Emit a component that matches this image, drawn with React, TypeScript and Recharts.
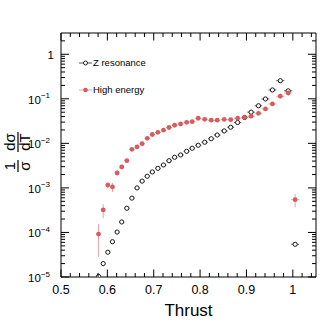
import React from 'react'
import { ScatterChart, Scatter, XAxis, YAxis, ErrorBar, Legend } from 'recharts'

// bin centres in thrust
const THRUST = [0.581, 0.591, 0.601, 0.611, 0.621, 0.631, 0.642, 0.653, 0.664, 0.675, 0.686, 0.697, 0.709, 0.721, 0.733, 0.745, 0.758, 0.771, 0.783, 0.796, 0.81, 0.824, 0.837, 0.852, 0.866, 0.881, 0.896, 0.91, 0.926, 0.941, 0.956, 0.973, 0.99, 1.005]
const BIN_HALF = [0.0048, 0.0049, 0.005, 0.005, 0.0051, 0.0052, 0.0053, 0.0055, 0.0056, 0.0057, 0.0058, 0.0059, 0.006, 0.0061, 0.0062, 0.0063, 0.0065, 0.0066, 0.0067, 0.0068, 0.007, 0.0071, 0.0072, 0.0074, 0.0075, 0.0077, 0.0078, 0.008, 0.0081, 0.0083, 0.0085, 0.0087, 0.0088, 0.0086]

const Z_VALUES = [1.03e-5, 2.0e-5, 3.6e-5, 6.2e-5, 1.02e-4, 1.72e-4, 3.5e-4, 5.9e-4, 1.0e-3, 1.42e-3, 1.83e-3, 2.28e-3, 2.75e-3, 3.27e-3, 4.08e-3, 4.87e-3, 5.48e-3, 6.64e-3, 7.76e-3, 9.06e-3, 1.06e-2, 1.27e-2, 1.54e-2, 1.9e-2, 2.3e-2, 2.94e-2, 3.81e-2, 5.01e-2, 6.98e-2, 9.91e-2, 0.158, 0.255, 0.151, 5.42e-5]

const HIGH_VALUES = [9.2e-5, 3.2e-4, 1.16e-3, 1.05e-3, 2.17e-3, 2.95e-3, 4.08e-3, 7.36e-3, 8.3e-3, 9.8e-3, 1.3e-2, 1.58e-2, 1.77e-2, 1.98e-2, 2.27e-2, 2.55e-2, 2.72e-2, 2.97e-2, 3.07e-2, 3.66e-2, 3.47e-2, 3.31e-2, 3.31e-2, 3.44e-2, 3.4e-2, 3.67e-2, 3.81e-2, 4.07e-2, 4.73e-2, 5.92e-2, 7.66e-2, 0.114, 0.135, 5.44e-4]
const HIGH_ERR = [6.4e-5, 1.1e-4, 2.0e-4, 2.4e-4, 3.2e-4, 3.6e-4, 4.0e-4, 5.0e-4, 5.0e-4, 6.0e-4, 7.0e-4, 8.0e-4, 8.0e-4, 9.0e-4, 1.0e-3, 1.0e-3, 1.0e-3, 1.1e-3, 1.1e-3, 1.2e-3, 1.2e-3, 1.2e-3, 1.2e-3, 1.2e-3, 1.2e-3, 1.3e-3, 1.3e-3, 1.4e-3, 1.5e-3, 1.8e-3, 2.2e-3, 3.0e-3, 3.5e-3, 1.8e-4]

const X_MAJOR = [0.5, 0.6, 0.7, 0.8, 0.9, 1.0]
const X_LABELS = ['0.5', '0.6', '0.7', '0.8', '0.9', '1']
const X_TICKS = [0.5, 0.52, 0.54, 0.56, 0.58, 0.6, 0.62, 0.64, 0.66, 0.68, 0.7, 0.72, 0.74, 0.76, 0.78, 0.8, 0.82, 0.84, 0.86, 0.88, 0.9, 0.92, 0.94, 0.96, 0.98, 1.0, 1.02, 1.04]
const DECADES = [1e-5, 1e-4, 1e-3, 1e-2, 1e-1, 1]

const Y_TICKS: number[] = []
DECADES.forEach(d => {
  for (let m = 1; m <= 9; m++) if (d * m < 2.9) Y_TICKS.push(d * m)
})

const zData = THRUST.map((t, i) => ({ x: t, y: Z_VALUES[i], xErr: BIN_HALF[i] }))
const highData = THRUST.map((t, i) => ({ x: t, y: HIGH_VALUES[i], xErr: BIN_HALF[i], yErr: HIGH_ERR[i] }))

const FONT = '"Liberation Sans", Arial, Helvetica, sans-serif'
const RED = '#d65c5e'
const RED_BAR = '#e9a3a4'

const isMajorX = (v: number) => X_MAJOR.findIndex(m => Math.abs(m - v) < 1e-9)
const isMajorY = (v: number) => Math.abs(Math.log10(v) - Math.round(Math.log10(v))) < 1e-6

function BottomTick(props: any) {
  const { x, y, payload } = props
  const idx = isMajorX(payload.value)
  return (
    <g>
      <line x1={x} x2={x} y1={y} y2={y - (idx >= 0 ? 7.5 : 4)} stroke="#000" />
      {idx >= 0 && (
        <text x={x} y={y + 16.5} textAnchor="middle" fontSize={12.5} fontFamily={FONT} fill="#000">
          {X_LABELS[idx]}
        </text>
      )}
    </g>
  )
}

function TopTick(props: any) {
  const { x, y, payload } = props
  const major = isMajorX(payload.value) >= 0
  return <line x1={x} x2={x} y1={y} y2={y + (major ? 7.5 : 4)} stroke="#000" />
}

function LeftTick(props: any) {
  const { x, y, payload } = props
  const v = payload.value as number
  const major = isMajorY(v)
  const exp = Math.round(Math.log10(v))
  return (
    <g>
      <line x1={x} x2={x + (major ? 8 : 4)} y1={y} y2={y} stroke="#000" />
      {major && exp === 0 && (
        <text x={x - 7} y={y + 5} textAnchor="end" fontSize={11.5} fontFamily={FONT} fill="#000">1</text>
      )}
      {major && exp !== 0 && (
        <text x={x - 11} y={y + 5} textAnchor="end" fontSize={11.5} fontFamily={FONT} fill="#000">
          10<tspan dy={-5.5} fontSize={8}>{`\u2212${-exp}`}</tspan>
        </text>
      )}
    </g>
  )
}

function RightTick(props: any) {
  const { x, y, payload } = props
  const major = isMajorY(payload.value)
  return <line x1={x} x2={x - (major ? 8 : 4)} y1={y} y2={y} stroke="#000" />
}

function YTitle() {
  return (
    <g transform="translate(18,152) rotate(-90)" fontFamily={FONT} fill="#000">
      <text x={-14} y={-3} textAnchor="middle" fontSize={15}>1</text>
      <line x1={-20} x2={-8} y1={0} y2={0} stroke="#000" strokeWidth={1.2} />
      <text x={-14} y={12} textAnchor="middle" fontSize={15}>σ</text>
      <text x={10} y={-3} textAnchor="middle" fontSize={15}>dσ</text>
      <line x1={0} x2={20} y1={0} y2={0} stroke="#000" strokeWidth={1.2} />
      <text x={10} y={12} textAnchor="middle" fontSize={15}>dT</text>
    </g>
  )
}

function LegendBox() {
  const row = { display: 'flex', alignItems: 'center', height: 12 } as const
  return (
    <div style={{ fontFamily: FONT, fontSize: 9.5, color: '#000', lineHeight: '12px' }}>
      <div style={row}>
        <svg width={13} height={8} style={{ display: 'block' }}>
          <line x1={0} x2={13} y1={4} y2={4} stroke="#555" />
          <circle cx={6.5} cy={4} r={2} fill="#fff" stroke="#222" />
        </svg>
        <span style={{ marginLeft: 1 }}>Z resonance</span>
      </div>
      <div style={{ ...row, marginTop: 15.3 }}>
        <svg width={13} height={8} style={{ display: 'block' }}>
          <line x1={0} x2={13} y1={4} y2={4} stroke={RED_BAR} />
          <circle cx={6.5} cy={4} r={2.3} fill={RED} />
        </svg>
        <span style={{ marginLeft: 1 }}>High energy</span>
      </div>
    </div>
  )
}

export default function App() {
  return (
    <div style={{ position: 'absolute', left: 0, top: 0, width: 332, height: 326, background: '#fff' }}>
      <ScatterChart width={332} height={326} margin={{ top: 32, right: 15, bottom: 48, left: 60 }}>
        <XAxis xAxisId="b" type="number" dataKey="x" domain={[0.5, 1.05]} ticks={X_TICKS} interval={0}
          allowDataOverflow height={1} tickSize={0} tickMargin={0} tickLine={false} tick={BottomTick}
          axisLine={{ stroke: '#000' }} />
        <XAxis xAxisId="t" orientation="top" type="number" dataKey="x" domain={[0.5, 1.05]} ticks={X_TICKS} interval={0}
          allowDataOverflow height={1} tickSize={0} tickMargin={0} tickLine={false} tick={TopTick}
          axisLine={{ stroke: '#000' }} />
        <YAxis yAxisId="l" type="number" dataKey="y" scale="log" domain={[1e-5, 3]} ticks={Y_TICKS} interval={0}
          allowDataOverflow width={1} tickSize={0} tickMargin={0} tickLine={false} tick={LeftTick}
          axisLine={{ stroke: '#000' }} label={<YTitle />} />
        <YAxis yAxisId="r" orientation="right" type="number" dataKey="y" scale="log" domain={[1e-5, 3]} ticks={Y_TICKS} interval={0}
          allowDataOverflow width={1} tickSize={0} tickMargin={0} tickLine={false} tick={RightTick}
          axisLine={{ stroke: '#000' }} />
        <Legend layout="vertical" align="center" verticalAlign="middle" content={<LegendBox />}
          wrapperStyle={{ left: 79, top: 56.7, width: 'auto' }} />
        <Scatter name="Z resonance" data={zData} xAxisId="b" yAxisId="l" isAnimationActive={false}
          shape={(p: any) => <circle cx={p.cx} cy={p.cy} r={2.1} fill="#fff" stroke="#1a1a1a" strokeWidth={1} />}>
          <ErrorBar dataKey="xErr" direction="x" width={0} stroke="#555" strokeWidth={1} />
        </Scatter>
        <Scatter name="High energy" data={highData} xAxisId="b" yAxisId="l" isAnimationActive={false}
          shape={(p: any) => <circle cx={p.cx} cy={p.cy} r={2.4} fill={RED} />}>
          <ErrorBar dataKey="xErr" direction="x" width={0} stroke={RED_BAR} strokeWidth={1} />
          <ErrorBar dataKey="yErr" direction="y" width={0} stroke={RED_BAR} strokeWidth={1} />
        </Scatter>
      </ScatterChart>
      <div style={{ position: 'absolute', left: 0, width: 377, top: 301, textAlign: 'center', fontFamily: FONT, fontSize: 17, color: '#000' }}>
        Thrust
      </div>
    </div>
  )
}
